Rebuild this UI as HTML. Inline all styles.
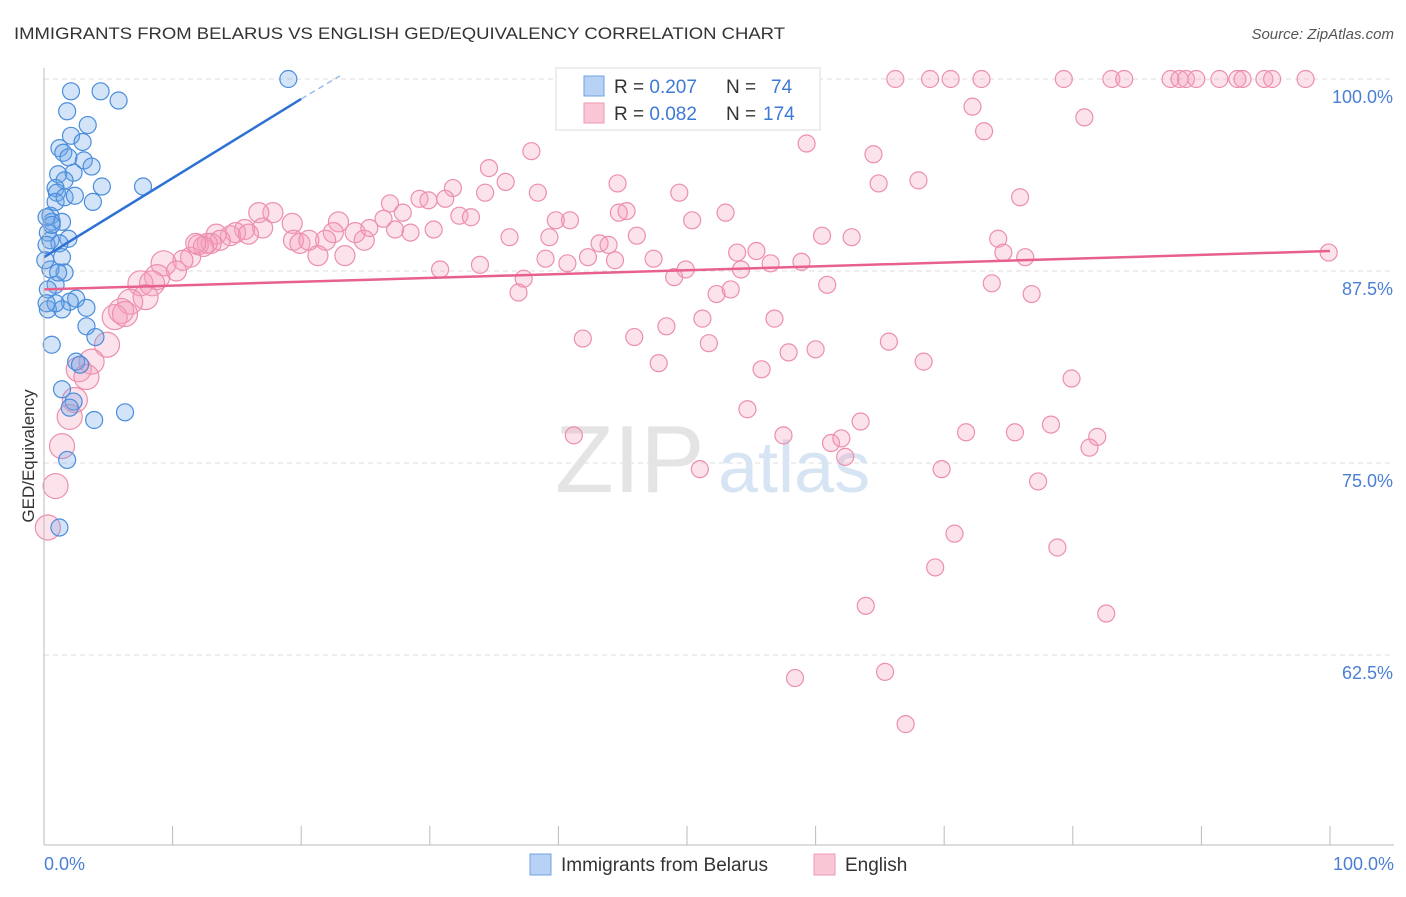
<!DOCTYPE html>
<html><head><meta charset="utf-8"><style>
body{margin:0;background:#fff;font-family:"Liberation Sans",sans-serif;}
svg text{font-family:"Liberation Sans",sans-serif;}
</style></head><body>
<svg width="1406" height="892" xmlns="http://www.w3.org/2000/svg">
<text x="14" y="39" font-size="17" fill="#333" textLength="771" lengthAdjust="spacingAndGlyphs">IMMIGRANTS FROM BELARUS VS ENGLISH GED/EQUIVALENCY CORRELATION CHART</text>
<text x="1394" y="39" font-size="15" fill="#555" font-style="italic" text-anchor="end">Source: ZipAtlas.com</text>
<g id="grid"></g>
<text x="555" y="492" font-size="96" fill="#e4e4e4" font-family="Liberation Serif">ZIP</text>
<text x="718" y="492" font-size="72" fill="#d6e4f3">atlas</text>
<g id="pts"></g>
<g id="lines"></g>
<line x1="44" y1="68" x2="44" y2="845" stroke="#bbb"/>
<line x1="44" y1="845" x2="1394" y2="845" stroke="#bbb"/>
<g id="xt"></g>
<text x="44" y="870" font-size="18" fill="#4a7fd4">0.0%</text>
<text x="1394" y="870" font-size="18" fill="#4a7fd4" text-anchor="end">100.0%</text>
<text transform="translate(34,456) rotate(-90)" font-size="17" fill="#333" text-anchor="middle">GED/Equivalency</text>
<g>
<rect x="556" y="68" width="264" height="62" fill="#fff" stroke="#ddd"/>
<rect x="584" y="76" width="20" height="20" fill="#b7d2f4" stroke="#6fa3e0"/>
<rect x="584" y="103" width="20" height="20" fill="#f9c6d5" stroke="#ee99b4"/>
<text x="614" y="93" font-size="19" fill="#333">R = <tspan fill="#3d7ad6">0.207</tspan><tspan x="726">N = </tspan><tspan x="771" fill="#3d7ad6">74</tspan></text>
<text x="614" y="120" font-size="19" fill="#333">R = <tspan fill="#3d7ad6">0.082</tspan><tspan x="726">N = </tspan><tspan x="763" fill="#3d7ad6">174</tspan></text>
</g>
<g>
<rect x="530" y="854" width="21" height="21" fill="#b7d2f4" stroke="#6fa3e0"/>
<text x="561" y="871" font-size="19" fill="#333">Immigrants from Belarus</text>
<rect x="814" y="854" width="21" height="21" fill="#f9c6d5" stroke="#ee99b4"/>
<text x="845" y="871" font-size="19" fill="#333">English</text>
</g>
</svg>
<script>
const yTicks=[100,87.5,75,62.5];
const yTickLabels=["100.0%","87.5%","75.0%","62.5%"];
const xTickVals=[0,10,20,30,40,50,60,70,80,90,100];
const blueX=[2.1,4.4,5.8,1.8,3.4,2.1,3.0,1.2,1.5,1.9,3.1,3.7,2.3,1.1,1.6,4.5,7.7,0.9,1.0,3.8,0.9,0.5,1.4,0.6,0.3,1.9,0.5,1.2,0.2,1.4,1.6,0.5,0.9,0.3,2.5,2.0,3.3,1.4,0.3,3.3,4.0,0.6,2.5,2.8,1.4,2.3,2.0,3.9,6.3,1.8,1.2,19.0,0.2,0.6,0.1,0.9,0.2,1.6,2.4,1.1];
const blueY=[99.2,99.2,98.6,97.9,97.0,96.3,95.9,95.5,95.2,94.9,94.7,94.3,93.9,93.8,93.4,93.0,93.0,92.9,92.6,92.0,92.0,91.1,90.7,90.7,90.0,89.6,89.5,89.3,89.2,88.4,87.4,87.6,86.6,86.3,85.7,85.5,85.1,85.0,85.0,83.9,83.2,82.7,81.6,81.4,79.8,79.0,78.6,77.8,78.3,75.2,70.8,100,91.0,90.5,88.2,85.4,85.4,92.3,92.4,87.4];
const pinkX=[66.2,68.9,70.5,72.9,79.3,83.0,84.0,87.6,88.3,88.8,89.6,91.4,92.8,93.2,94.9,95.5,98.1,72.2,73.1,80.9,59.3,64.5,37.9,34.6,35.9,31.8,34.3,38.4,44.6,49.4,64.9,68.0,75.9,53.0,50.4,39.8,40.9,45.3,44.7,32.3,33.2,29.2,29.9,31.2,26.9,27.9,26.4,28.5,27.3,30.3,22.9,22.5,24.2,24.9,25.3,21.9,19.3,19.4,19.9,20.6,21.3,23.4,17.8,16.7,17.0,15.6,14.9,14.5,15.9,13.4,13.7,13.0,12.7,12.0,12.4,11.4,10.8,11.8,9.3,10.3,8.8,7.5,8.4,7.9,6.7,6.0,5.5,6.3,4.9,3.7,2.7,3.3,2.4,2.0,1.4,0.9,0.3,36.2,39.3,39.0,43.2,43.9,46.1,47.4,42.3,44.4,30.8,33.9,37.3,36.9,40.7,49.0,49.9,53.9,55.4,54.2,56.5,58.9,60.5,62.8,74.2,74.6,76.3,73.7,76.8,99.9,52.3,53.4,60.9,51.2,48.4,56.8,41.9,45.9,51.7,57.9,60.0,65.7,47.8,55.8,68.4,79.9,54.7,63.5,41.2,57.5,61.2,62.0,71.7,75.5,78.3,81.9,81.3,62.3,51.0,69.8,77.3,70.8,78.8,69.3,63.9,82.6,58.4,65.4,67.0];
const pinkY=[100,100,100,100,100,100,100,100,100,100,100,100,100,100,100,100,100,98.2,96.6,97.5,95.8,95.1,95.3,94.2,93.3,92.9,92.6,92.6,93.2,92.6,93.2,93.4,92.3,91.3,90.8,90.8,90.8,91.4,91.3,91.1,91.0,92.2,92.1,92.2,91.9,91.3,90.9,90.0,90.2,90.2,90.7,90.0,90.0,89.5,90.3,89.5,90.6,89.5,89.3,89.5,88.5,88.5,91.3,91.3,90.3,90.2,90.0,89.8,89.9,89.9,89.5,89.3,89.3,89.2,89.1,88.4,88.2,89.3,88.0,87.5,87.1,86.7,86.7,85.8,85.5,84.9,84.5,84.7,82.7,81.6,81.1,80.6,79.1,78.0,76.1,73.5,70.8,89.7,89.7,88.3,89.3,89.2,89.8,88.3,88.4,88.2,87.6,87.9,87.0,86.1,88.0,87.1,87.6,88.7,88.8,87.6,88.0,88.1,89.8,89.7,89.6,88.7,88.4,86.7,86.0,88.7,86.0,86.3,86.6,84.4,83.9,84.4,83.1,83.2,82.8,82.2,82.4,82.9,81.5,81.1,81.6,80.5,78.5,77.7,76.8,76.8,76.3,76.6,77.0,77.0,77.5,76.7,76.0,75.4,74.6,74.6,73.8,70.4,69.5,68.2,65.7,65.2,61.0,61.4,58.0];
const blueTrend=[[0,88.4],[20,98.7]];
const blueTrendExt=[[20,98.7],[23,100.2]];
const pinkTrend=[[0,86.3],[100,88.8]];

const NS="http://www.w3.org/2000/svg";
const xs=v=>44+v*12.86;
const ys=v=>79+(100-v)*15.36;
function mk(tag,attrs,parent){const e=document.createElementNS(NS,tag);for(const k in attrs)e.setAttribute(k,attrs[k]);parent.appendChild(e);return e;}
const grid=document.getElementById('grid');
yTicks.forEach((t,i)=>{
  const l=mk('line',{x1:44,x2:1394,y1:ys(t),y2:ys(t),stroke:'#ddd','stroke-dasharray':'5,4'},grid);
  
  
  const tx=mk('text',{x:1393,y:ys(t)+24,'font-size':18,fill:'#4a7fd4','text-anchor':'end'},grid);
  tx.textContent=yTickLabels[i];
  
  
});
const xt=document.getElementById('xt');
xTickVals.forEach(v=>{
  const l=mk('line',{x1:xs(v),x2:xs(v),y1:826,y2:845,stroke:'#bbb'},xt);
  
  
});
const pts=document.getElementById('pts');
pinkX.forEach((x,i)=>{
  const c=mk('circle',{cx:xs(x),cy:ys(pinkY[i]),r:x<10?12.5:(x<25?10:8.5),fill:'rgba(246,160,188,0.3)',stroke:'#ec8fae','stroke-width':1.2},pts);
  
  
});
blueX.forEach((x,i)=>{
  const c=mk('circle',{cx:xs(x),cy:ys(blueY[i]),r:8.5,fill:'rgba(110,165,232,0.3)',stroke:'#4b8ddb','stroke-width':1.2},pts);
  
  
});
const lines=document.getElementById('lines');
const b=mk('line',{x1:xs(blueTrend[0][0]),y1:ys(blueTrend[0][1]),x2:xs(blueTrend[1][0]),y2:ys(blueTrend[1][1]),stroke:'#2f72d6','stroke-width':2.5},lines);


const be=mk('line',{x1:xs(blueTrendExt[0][0]),y1:ys(blueTrendExt[0][1]),x2:xs(blueTrendExt[1][0]),y2:ys(blueTrendExt[1][1]),stroke:'#9bbce8','stroke-width':1.5,'stroke-dasharray':'6,4'},lines);


const p=mk('line',{x1:xs(pinkTrend[0][0]),y1:ys(pinkTrend[0][1]),x2:xs(pinkTrend[1][0]),y2:ys(pinkTrend[1][1]),stroke:'#e8608e','stroke-width':2.5},lines);


</script>
</body></html>
